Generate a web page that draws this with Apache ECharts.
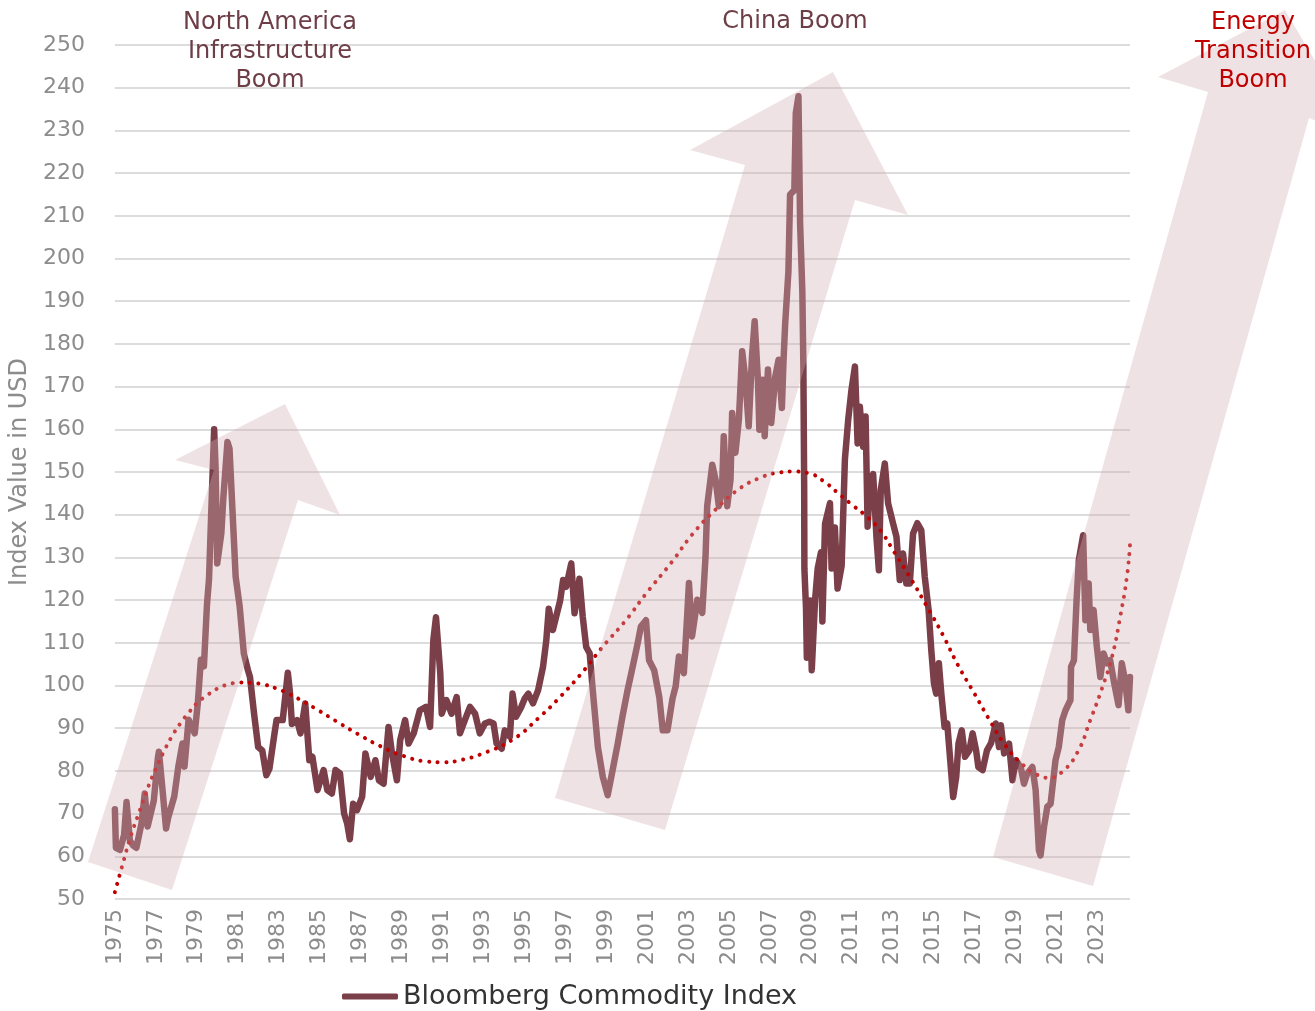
<!DOCTYPE html>
<html>
<head>
<meta charset="utf-8">
<script src="https://cdn.jsdelivr.net/npm/echarts@6/dist/echarts.min.js"></script>
<style>
  html, body { margin: 0; padding: 0; background: #fff; }
  #main { width: 1315px; height: 1011px; }
</style>
</head>
<body>
<div id="main"></div>
<script>
// Bloomberg Commodity Index (decimal year / index value)
const bcomYears = [
  1975.00, 1975.05, 1975.25, 1975.45, 1975.57, 1975.73, 1975.90, 1976.05, 1976.30, 1976.46,
  1976.60, 1976.75, 1976.90, 1977.00, 1977.10, 1977.15, 1977.30, 1977.50, 1977.60, 1977.90,
  1978.10, 1978.30, 1978.40, 1978.60, 1978.90, 1979.05, 1979.20, 1979.35, 1979.50, 1979.60,
  1979.70, 1979.85, 1979.92, 1980.00, 1980.20, 1980.30, 1980.50, 1980.60, 1980.80, 1980.90,
  1981.10, 1981.30, 1981.50, 1981.60, 1981.80, 1982.00, 1982.20, 1982.40, 1982.55, 1982.80,
  1982.90, 1983.20, 1983.45, 1983.55, 1983.65, 1983.90, 1984.07, 1984.30, 1984.50, 1984.65,
  1984.90, 1985.20, 1985.38, 1985.60, 1985.78, 1986.00, 1986.20, 1986.35, 1986.48, 1986.64,
  1986.83, 1987.08, 1987.24, 1987.50, 1987.73, 1987.90, 1988.13, 1988.37, 1988.54, 1988.78,
  1988.94, 1989.18, 1989.35, 1989.60, 1989.90, 1990.20, 1990.40, 1990.56, 1990.69, 1990.90,
  1990.97, 1991.20, 1991.45, 1991.70, 1991.86, 1992.10, 1992.35, 1992.60, 1992.83, 1993.08,
  1993.30, 1993.50, 1993.65, 1993.90, 1994.05, 1994.30, 1994.43, 1994.60, 1994.86, 1995.03,
  1995.20, 1995.43, 1995.68, 1995.92, 1996.08, 1996.20, 1996.40, 1996.56, 1996.76, 1996.90,
  1997.05, 1997.30, 1997.46, 1997.70, 1997.86, 1998.03, 1998.20, 1998.35, 1998.60, 1998.84,
  1999.08, 1999.32, 1999.57, 1999.80, 2000.05, 2000.30, 2000.54, 2000.70, 2000.95, 2001.10,
  2001.35, 2001.60, 2001.77, 2002.00, 2002.25, 2002.40, 2002.56, 2002.80, 2002.97, 2003.05,
  2003.20, 2003.46, 2003.70, 2003.86, 2003.94, 2004.10, 2004.19, 2004.35, 2004.51, 2004.67,
  2004.75, 2004.92, 2005.08, 2005.16, 2005.32, 2005.49, 2005.65, 2005.81, 2005.97, 2006.13,
  2006.26, 2006.42, 2006.49, 2006.65, 2006.75, 2006.91, 2007.07, 2007.27, 2007.43, 2007.59,
  2007.67, 2007.75, 2007.91, 2007.99, 2008.20, 2008.27, 2008.40, 2008.48, 2008.59, 2008.64,
  2008.68, 2008.69, 2008.77, 2008.81, 2008.97, 2009.05, 2009.21, 2009.34, 2009.50, 2009.57,
  2009.70, 2009.94, 2010.02, 2010.18, 2010.31, 2010.51, 2010.67, 2010.83, 2010.99, 2011.16,
  2011.29, 2011.40, 2011.56, 2011.68, 2011.78, 2011.89, 2012.05, 2012.21, 2012.33, 2012.42,
  2012.62, 2012.78, 2013.02, 2013.19, 2013.35, 2013.51, 2013.67, 2013.84, 2014.00, 2014.21,
  2014.40, 2014.57, 2014.76, 2014.89, 2015.02, 2015.13, 2015.26, 2015.38, 2015.54, 2015.67,
  2015.83, 2015.96, 2016.11, 2016.22, 2016.38, 2016.54, 2016.75, 2016.91, 2017.08, 2017.19,
  2017.40, 2017.61, 2017.81, 2018.04, 2018.20, 2018.29, 2018.45, 2018.69, 2018.86, 2019.02,
  2019.26, 2019.42, 2019.58, 2019.83, 2019.99, 2020.15, 2020.23, 2020.40, 2020.56, 2020.72,
  2020.96, 2021.12, 2021.29, 2021.45, 2021.69, 2021.72, 2021.86, 2021.99, 2022.10, 2022.31,
  2022.42, 2022.58, 2022.66, 2022.82, 2022.98, 2023.15, 2023.31, 2023.47, 2023.63, 2023.83,
  2024.04, 2024.20, 2024.36, 2024.52, 2024.60
];
const bcomValues = [
  71.0, 62.0, 61.5, 65.0, 72.7, 63.7, 62.5, 62.0, 67.7, 74.7,
  67.0, 70.0, 73.0, 78.0, 83.0, 84.5, 77.0, 66.5, 69.0, 74.0,
  81.0, 86.4, 81.0, 92.0, 88.8, 95.8, 106.0, 104.5, 119.0, 125.0,
  139.5, 160.0, 151.0, 128.6, 135.6, 144.0, 157.0, 155.5, 135.6, 125.5,
  118.4, 107.5, 103.6, 102.0, 93.4, 85.6, 84.8, 79.0, 80.5, 88.8,
  91.9, 91.9, 103.0, 98.5, 91.0, 91.9, 88.8, 95.8, 82.5, 83.3,
  75.5, 80.2, 75.5, 74.7, 80.2, 79.4, 70.0, 67.7, 64.0, 72.3,
  70.8, 73.9, 84.1, 78.6, 82.5, 77.8, 77.0, 90.3, 84.1, 77.8,
  87.2, 91.9, 86.4, 88.8, 94.2, 95.0, 90.3, 110.6, 116.0, 102.8,
  93.4, 96.6, 93.4, 97.3, 88.8, 91.9, 95.0, 93.4, 88.8, 91.1,
  91.5, 91.1, 86.4, 85.2, 89.5, 88.0, 98.1, 92.7, 95.0, 97.0,
  98.1, 95.8, 98.9, 104.4, 110.6, 118.0, 113.0, 116.1, 120.0, 124.7,
  123.1, 128.6, 116.9, 125.0, 116.1, 109.0, 107.5, 98.9, 85.6, 78.6,
  74.3, 80.2, 86.4, 92.7, 98.9, 104.4, 109.8, 113.8, 115.3, 105.9,
  103.6, 97.3, 89.5, 89.5, 97.0, 99.8, 106.8, 102.9, 117.0, 124.0,
  111.5, 120.1, 117.0, 130.2, 142.0, 148.2, 151.7, 148.2, 142.0, 146.6,
  158.4, 142.0, 148.2, 163.8, 154.5, 162.3, 178.3, 171.6, 160.7, 177.1,
  185.3, 171.6, 159.9, 171.6, 158.4, 174.0, 161.5, 172.4, 176.3, 165.0,
  176.0, 184.6, 197.0, 215.0, 216.0, 234.0, 238.0, 208.4, 192.2, 175.0,
  146.5, 127.4, 118.0, 106.5, 119.9, 103.6, 119.9, 127.4, 131.2, 115.0,
  137.9, 142.7, 127.4, 137.0, 122.7, 128.0, 153.0, 162.2, 169.2, 174.7,
  156.7, 165.3, 155.9, 163.0, 137.2, 147.3, 149.5, 134.8, 127.0, 145.8,
  152.0, 142.7, 138.0, 134.8, 124.7, 130.9, 123.9, 123.9, 135.6, 138.0,
  136.4, 125.5, 117.7, 108.3, 100.5, 98.1, 105.2, 98.1, 90.3, 91.1,
  81.7, 73.9, 78.6, 86.4, 89.5, 83.3, 84.8, 88.8, 84.8, 80.9,
  80.2, 84.8, 86.5, 91.1, 85.6, 90.7, 84.1, 86.4, 77.8, 82.5,
  80.9, 77.0, 79.4, 80.9, 75.5, 61.4, 60.2, 66.9, 71.6, 72.3,
  82.5, 85.6, 91.9, 94.2, 96.6, 104.4, 105.9, 120.0, 129.4, 135.2,
  115.3, 123.9, 113.0, 117.7, 109.1, 102.0, 107.5, 105.2, 105.9, 100.5,
  95.4, 105.2, 101.2, 94.2, 102.0
];

// dotted trend curve
const trendYears = [
  1975.00, 1975.40, 1975.78, 1976.20, 1976.60, 1977.00, 1977.40, 1977.80, 1978.21, 1978.60,
  1979.00, 1979.50, 1979.98, 1980.50, 1981.13, 1981.70, 1982.30, 1982.90, 1983.43, 1984.16,
  1984.80, 1985.86, 1986.92, 1987.97, 1989.10, 1990.25, 1991.05, 1991.86, 1992.99, 1994.46,
  1995.68, 1996.81, 1997.86, 1998.84, 1999.97, 2000.95, 2002.24, 2003.20, 2004.35, 2005.49,
  2006.60, 2007.35, 2008.16, 2008.97, 2009.70, 2010.35, 2011.00, 2011.80, 2012.45, 2013.02,
  2013.88, 2014.69, 2015.46, 2016.19, 2017.00, 2017.81, 2018.45, 2019.26, 2020.20, 2020.64,
  2021.29, 2022.05, 2022.66, 2023.23, 2023.72, 2024.12, 2024.45, 2024.60
];
const trendValues = [
  51.6, 58.5, 64.8, 70.5, 75.9, 80.5, 84.6, 88.2, 91.2, 93.6,
  95.8, 97.7, 99.2, 100.2, 100.7, 100.6, 100.2, 99.3, 98.2, 96.4,
  94.6, 91.5, 88.5, 85.8, 83.5, 82.2, 82.0, 82.5, 84.1, 87.4,
  92.3, 97.6, 103.2, 109.1, 115.3, 121.5, 129.1, 135.3, 141.2, 146.0,
  148.8, 149.8, 150.1, 149.6, 147.6, 145.0, 142.4, 139.3, 136.0, 131.7,
  125.1, 118.4, 111.8, 104.8, 98.1, 91.3, 86.4, 81.9, 78.8, 78.4,
  79.8, 84.5, 91.9, 99.3, 106.7, 116.1, 125.5, 133.1
];

const seriesName = 'Bloomberg Commodity Index';
const yearMin = 1975;
const yearMax = 2024.6;
const yMin = 50;
const yMax = 250;

// background arrows (pixel shapes, drawn over the line like in the original)
const arrowFill = 'rgba(212,174,179,0.36)';
const arrows = [
  [[88, 862], [214, 470], [175, 460], [285, 404], [340, 515], [298, 500], [172, 890]],
  [[555, 798], [745, 165], [690, 150], [833, 72], [908, 215], [855, 200], [665, 830]],
  [[993, 857], [1208, 92], [1158, 77], [1285, 10], [1362, 140], [1309, 118], [1093, 886]]
];

const labels = [
  { text: 'North America\nInfrastructure\nBoom', x: 270, y: 8, color: '#6E3E47' },
  { text: 'China Boom', x: 795, y: 7, color: '#6E3E47' },
  { text: 'Energy\nTransition\nBoom', x: 1253, y: 8, color: '#C00000' }
];

const chart = echarts.init(document.getElementById('main'));

const graphics = arrows.map(pts => ({
  type: 'polygon',
  z: 100,
  silent: true,
  shape: { points: pts },
  style: { fill: arrowFill }
}));
labels.forEach(l => {
  graphics.push({
    type: 'text',
    z: 110,
    position: [l.x, l.y],
    style: {
      text: l.text,
      x: 0,
      align: 'center',
      fill: l.color,
      font: '24px "DejaVu Sans"',
      lineHeight: 29
    }
  });
});

const option = {
  animation: false,
  textStyle: { fontFamily: 'DejaVu Sans' },
  grid: { left: 110, right: 185, top: 45, bottom: 112 },
  legend: {
    data: [seriesName],
    left: 337,
    top: 978,
    icon: 'roundRect',
    itemWidth: 56,
    itemHeight: 6,
    itemGap: 10,
    textStyle: { fontSize: 27, color: '#333' }
  },
  xAxis: {
    type: 'value',
    min: yearMin,
    max: yearMax,
    interval: 2,
    axisLine: { show: false },
    axisTick: { show: false },
    splitLine: { show: false },
    axisLabel: {
      rotate: 90,
      margin: 10,
      color: '#8C8C8C',
      fontSize: 22,
      showMaxLabel: false,
      formatter: v => ((v - yearMin) % 2 === 0 ? String(v) : '')
    }
  },
  yAxis: {
    type: 'value',
    min: yMin,
    max: yMax,
    interval: 10,
    name: 'Index Value in USD',
    nameLocation: 'middle',
    nameGap: 72,
    nameTextStyle: { fontSize: 24, color: '#8C8C8C' },
    axisLine: { show: false },
    axisTick: { show: false },
    axisLabel: { color: '#8C8C8C', fontSize: 22, margin: 30 },
    splitLine: { lineStyle: { color: '#DCDCDC', width: 2 } }
  },
  series: [
    {
      name: seriesName,
      type: 'line',
      data: bcomYears.map((t, i) => [t, bcomValues[i]]),
      showSymbol: false,
      color: '#7B3F49',
      lineStyle: { width: 6.5, color: '#7B3F49', join: 'round', cap: 'round' },
      z: 3
    },
    {
      name: 'Trend',
      type: 'line',
      data: trendYears.map((t, i) => [t, trendValues[i]]),
      smooth: true,
      showSymbol: false,
      lineStyle: { width: 4, color: '#C00000', type: [0.1, 8.5], cap: 'round' },
      z: 4
    }
  ],
  graphic: graphics
};

chart.setOption(option);
</script>
</body>
</html>
